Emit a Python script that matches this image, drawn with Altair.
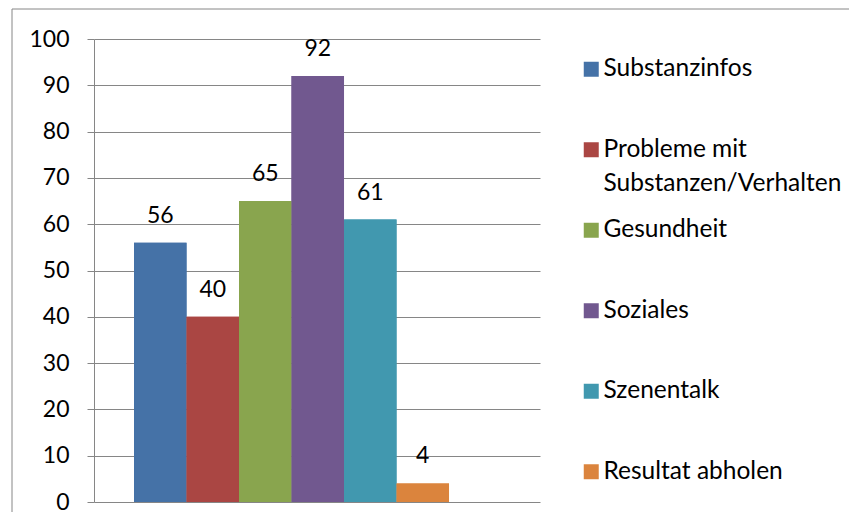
import altair as alt
import pandas as pd

categories = ["Substanzinfos", "Probleme mit Substanzen/Verhalten", "Gesundheit",
              "Soziales", "Szenentalk", "Resultat abholen"]
values = [56, 40, 65, 92, 61, 4]
colors = ["#4572A7", "#AA4643", "#89A54E", "#71588F", "#4198AF", "#DB843D"]
y_ticks = list(range(0, 101, 10))

df = pd.DataFrame({"Kategorie": categories, "Wert": values, "pos": list(range(len(categories)))})

W, H = 446, 463
FONT = "Lato"
GRAY = "#868686"

x_scale = alt.Scale(domain=[-0.762, 7.733], nice=False, zero=False)
y_enc = alt.Y("Wert:Q", scale=alt.Scale(domain=[0, 100], nice=False),
              axis=alt.Axis(values=y_ticks, title=None, grid=True, gridColor=GRAY,
                            gridOpacity=1, domainColor=GRAY, tickColor=GRAY, tickSize=7,
                            labelFontSize=23, labelFont=FONT, labelColor="black",
                            labelPadding=18))

LABEL_EXPR = ("datum.label == 'Probleme mit Substanzen/Verhalten' "
              "? ['Probleme mit', 'Substanzen/Verhalten'] : datum.label")


def make_legend(vals, ly):
    return alt.Legend(
        title=None, orient="none", legendX=485, legendY=ly, direction="vertical",
        values=vals, symbolType="square", symbolSize=225, symbolStrokeWidth=0,
        symbolOpacity=1, labelFont=FONT, labelFontSize=24.5, labelColor="black",
        labelLimit=400, labelOffset=0, rowPadding=55.5, labelExpr=LABEL_EXPR,
    )


base = alt.Chart(df).transform_calculate(
    pos_end="datum.pos + 1", mid="datum.pos + 0.5"
)

bars_a = base.mark_bar().encode(
    x=alt.X("pos:Q", scale=x_scale, axis=None), x2="pos_end:Q",
    y=y_enc, y2=alt.datum(0),
    color=alt.Color("Kategorie:N", sort=categories,
                    scale=alt.Scale(domain=categories, range=colors),
                    legend=make_legend(categories[:2], 18)),
)
bars_b = base.mark_bar().encode(
    x=alt.X("pos:Q", scale=x_scale, axis=None), x2="pos_end:Q",
    y=y_enc, y2=alt.datum(0),
    color=alt.Color("Kategorie:N", sort=categories,
                    scale=alt.Scale(domain=categories, range=colors),
                    legend=make_legend(categories[2:], 179)),
)

labels = base.mark_text(baseline="middle", dy=-27, font=FONT, fontSize=23,
                        color="black").encode(
    x=alt.X("mid:Q", scale=x_scale, axis=None), y=alt.Y("Wert:Q"), text="Wert:Q")

border_df = pd.DataFrame({"b": [0]})
top_border = alt.Chart(border_df).mark_rule(color=GRAY, strokeWidth=1).encode(
    x=alt.value(-82), x2=alt.value(755), y=alt.value(-30))
left_border = alt.Chart(border_df).mark_rule(color=GRAY, strokeWidth=1).encode(
    x=alt.value(-82), y=alt.value(-30), y2=alt.value(H + 10))

chart = alt.layer(top_border, left_border, bars_a, bars_b, labels).resolve_scale(
    color="independent"
).properties(
    width=W, height=H,
    padding={"left": 3, "top": 0, "right": 0, "bottom": 0},
).configure(style={"guide-label": {"lineHeight": 34}}).configure_view(stroke=None)

chart.save("out.html", embed_options={"renderer": "svg", "actions": False})
